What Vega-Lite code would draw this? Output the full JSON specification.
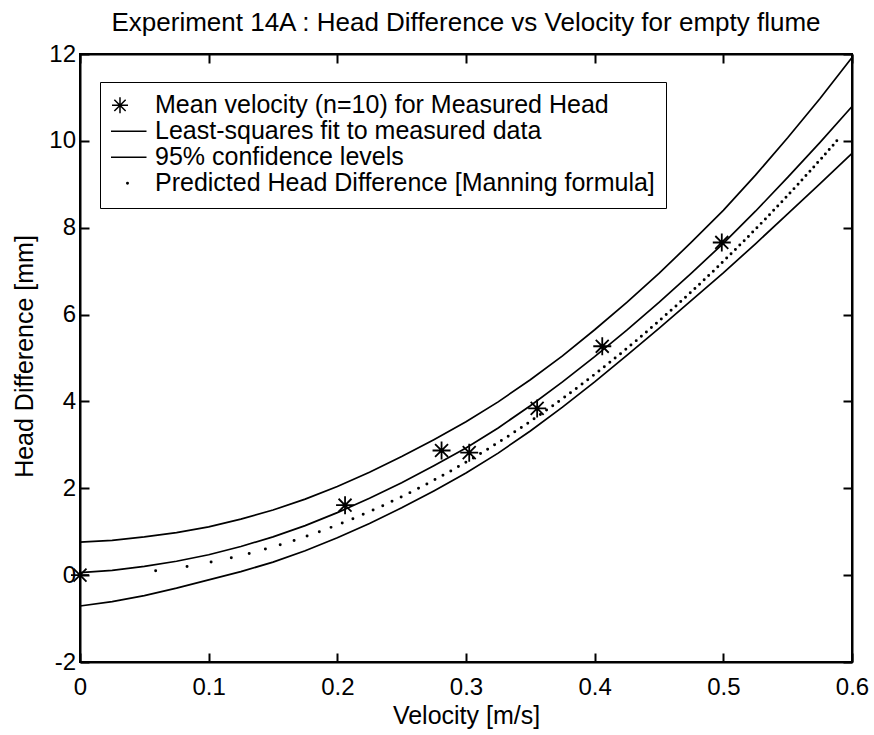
{
  "$schema": "https://vega.github.io/schema/vega-lite/v6.json",
  "width": 772,
  "height": 608,
  "autosize": "none",
  "padding": {"left": 80, "top": 54, "right": 22, "bottom": 73},
  "background": "white",
  "title": {
    "text": "Experiment 14A : Head Difference vs Velocity for empty flume",
    "font": "Liberation Sans", "fontSize": 26, "fontWeight": "normal", "color": "black",
    "anchor": "middle", "baseline": "alphabetic", "offset": -15
  },
  "config": {
    "view": {"stroke": "black", "strokeWidth": 2},
    "axis": {
      "domainColor": "black", "domainWidth": 2, "tickColor": "black", "tickWidth": 2, "tickSize": -9,
      "labelFont": "Liberation Sans", "labelFontSize": 24, "labelColor": "black", "labelOverlap": false, "labelFlush": false,
      "titleFont": "Liberation Sans", "titleFontSize": 25, "titleFontWeight": "normal", "titleColor": "black",
      "grid": false
    }
  },
  "datasets": {
    "fit": [
      {"v":0,"h":0.06,"s":"fit"},{"v":0.025,"h":0.11,"s":"fit"},{"v":0.05,"h":0.20,"s":"fit"},{"v":0.075,"h":0.32,"s":"fit"},{"v":0.1,"h":0.47,"s":"fit"},{"v":0.125,"h":0.66,"s":"fit"},{"v":0.15,"h":0.88,"s":"fit"},{"v":0.175,"h":1.14,"s":"fit"},{"v":0.2,"h":1.44,"s":"fit"},{"v":0.225,"h":1.77,"s":"fit"},{"v":0.25,"h":2.13,"s":"fit"},{"v":0.275,"h":2.52,"s":"fit"},{"v":0.3,"h":2.93,"s":"fit"},{"v":0.325,"h":3.39,"s":"fit"},{"v":0.35,"h":3.90,"s":"fit"},{"v":0.375,"h":4.45,"s":"fit"},{"v":0.4,"h":5.03,"s":"fit"},{"v":0.425,"h":5.64,"s":"fit"},{"v":0.45,"h":6.28,"s":"fit"},{"v":0.475,"h":6.95,"s":"fit"},{"v":0.5,"h":7.64,"s":"fit"},{"v":0.525,"h":8.38,"s":"fit"},{"v":0.55,"h":9.16,"s":"fit"},{"v":0.575,"h":9.96,"s":"fit"},{"v":0.6,"h":10.79,"s":"fit"},
      {"v":0,"h":0.76,"s":"upper"},{"v":0.025,"h":0.80,"s":"upper"},{"v":0.05,"h":0.88,"s":"upper"},{"v":0.075,"h":0.98,"s":"upper"},{"v":0.1,"h":1.11,"s":"upper"},{"v":0.125,"h":1.29,"s":"upper"},{"v":0.15,"h":1.50,"s":"upper"},{"v":0.175,"h":1.75,"s":"upper"},{"v":0.2,"h":2.04,"s":"upper"},{"v":0.225,"h":2.37,"s":"upper"},{"v":0.25,"h":2.73,"s":"upper"},{"v":0.275,"h":3.12,"s":"upper"},{"v":0.3,"h":3.53,"s":"upper"},{"v":0.325,"h":3.99,"s":"upper"},{"v":0.35,"h":4.50,"s":"upper"},{"v":0.375,"h":5.05,"s":"upper"},{"v":0.4,"h":5.65,"s":"upper"},{"v":0.425,"h":6.28,"s":"upper"},{"v":0.45,"h":6.95,"s":"upper"},{"v":0.475,"h":7.66,"s":"upper"},{"v":0.5,"h":8.40,"s":"upper"},{"v":0.525,"h":9.21,"s":"upper"},{"v":0.55,"h":10.07,"s":"upper"},{"v":0.575,"h":10.97,"s":"upper"},{"v":0.6,"h":11.92,"s":"upper"},
      {"v":0,"h":-0.71,"s":"lower"},{"v":0.025,"h":-0.61,"s":"lower"},{"v":0.05,"h":-0.47,"s":"lower"},{"v":0.075,"h":-0.30,"s":"lower"},{"v":0.1,"h":-0.11,"s":"lower"},{"v":0.125,"h":0.08,"s":"lower"},{"v":0.15,"h":0.30,"s":"lower"},{"v":0.175,"h":0.56,"s":"lower"},{"v":0.2,"h":0.86,"s":"lower"},{"v":0.225,"h":1.19,"s":"lower"},{"v":0.25,"h":1.55,"s":"lower"},{"v":0.275,"h":1.94,"s":"lower"},{"v":0.3,"h":2.35,"s":"lower"},{"v":0.325,"h":2.81,"s":"lower"},{"v":0.35,"h":3.32,"s":"lower"},{"v":0.375,"h":3.87,"s":"lower"},{"v":0.4,"h":4.45,"s":"lower"},{"v":0.425,"h":5.06,"s":"lower"},{"v":0.45,"h":5.68,"s":"lower"},{"v":0.475,"h":6.32,"s":"lower"},{"v":0.5,"h":6.96,"s":"lower"},{"v":0.525,"h":7.63,"s":"lower"},{"v":0.55,"h":8.32,"s":"lower"},{"v":0.575,"h":9.01,"s":"lower"},{"v":0.6,"h":9.71,"s":"lower"}
    ],
    "pred": [
      {"v":0.0588,"h":0.1},{"v":0.0832,"h":0.2},{"v":0.1019,"h":0.3},{"v":0.1176,"h":0.4},{"v":0.1315,"h":0.5},{"v":0.1441,"h":0.6},{"v":0.1556,"h":0.7},{"v":0.1664,"h":0.8},{"v":0.1765,"h":0.9},{"v":0.1860,"h":1.0},
      {"v":0.1951,"h":1.1},{"v":0.2038,"h":1.2},{"v":0.2121,"h":1.3},{"v":0.2201,"h":1.4},{"v":0.2278,"h":1.5},{"v":0.2353,"h":1.6},{"v":0.2425,"h":1.7},{"v":0.2496,"h":1.8},{"v":0.2564,"h":1.9},{"v":0.2631,"h":2.0},
      {"v":0.2696,"h":2.1},{"v":0.2759,"h":2.2},{"v":0.2821,"h":2.3},{"v":0.2882,"h":2.4},{"v":0.2941,"h":2.5},{"v":0.2999,"h":2.6},{"v":0.3057,"h":2.7},{"v":0.3113,"h":2.8},{"v":0.3168,"h":2.9},{"v":0.3222,"h":3.0},
      {"v":0.3275,"h":3.1},{"v":0.3328,"h":3.2},{"v":0.3379,"h":3.3},{"v":0.3430,"h":3.4},{"v":0.3480,"h":3.5},{"v":0.3529,"h":3.6},{"v":0.3578,"h":3.7},{"v":0.3626,"h":3.8},{"v":0.3674,"h":3.9},{"v":0.3720,"h":4.0},
      {"v":0.3767,"h":4.1},{"v":0.3812,"h":4.2},{"v":0.3857,"h":4.3},{"v":0.3902,"h":4.4},{"v":0.3946,"h":4.5},{"v":0.3990,"h":4.6},{"v":0.4033,"h":4.7},{"v":0.4075,"h":4.8},{"v":0.4118,"h":4.9},{"v":0.4159,"h":5.0},
      {"v":0.4201,"h":5.1},{"v":0.4242,"h":5.2},{"v":0.4282,"h":5.3},{"v":0.4323,"h":5.4},{"v":0.4363,"h":5.5},{"v":0.4402,"h":5.6},{"v":0.4441,"h":5.7},{"v":0.4480,"h":5.8},{"v":0.4518,"h":5.9},{"v":0.4556,"h":6.0},
      {"v":0.4594,"h":6.1},{"v":0.4632,"h":6.2},{"v":0.4669,"h":6.3},{"v":0.4706,"h":6.4},{"v":0.4743,"h":6.5},{"v":0.4779,"h":6.6},{"v":0.4815,"h":6.7},{"v":0.4851,"h":6.8},{"v":0.4886,"h":6.9},{"v":0.4922,"h":7.0},
      {"v":0.4957,"h":7.1},{"v":0.4991,"h":7.2},{"v":0.5026,"h":7.3},{"v":0.5060,"h":7.4},{"v":0.5094,"h":7.5},{"v":0.5128,"h":7.6},{"v":0.5162,"h":7.7},{"v":0.5195,"h":7.8},{"v":0.5228,"h":7.9},{"v":0.5261,"h":8.0},
      {"v":0.5294,"h":8.1},{"v":0.5327,"h":8.2},{"v":0.5359,"h":8.3},{"v":0.5391,"h":8.4},{"v":0.5423,"h":8.5},{"v":0.5455,"h":8.6},{"v":0.5487,"h":8.7},{"v":0.5518,"h":8.8},{"v":0.5549,"h":8.9},{"v":0.5581,"h":9.0},
      {"v":0.5611,"h":9.1},{"v":0.5642,"h":9.2},{"v":0.5673,"h":9.3},{"v":0.5703,"h":9.4},{"v":0.5733,"h":9.5},{"v":0.5764,"h":9.6},{"v":0.5793,"h":9.7},{"v":0.5823,"h":9.8},{"v":0.5853,"h":9.9},{"v":0.5882,"h":10.0}
    ],
    "meas": [
      {"v":0,"h":0},{"v":0.206,"h":1.61},{"v":0.281,"h":2.87},{"v":0.3025,"h":2.82},{"v":0.3553,"h":3.84},{"v":0.4059,"h":5.27},{"v":0.4988,"h":7.66}
    ]
  },
  "layer": [
    {
      "data": {"name": "fit"},
      "mark": {"type": "line", "color": "black", "strokeWidth": 1.7},
      "encoding": {
        "x": {"field": "v", "type": "quantitative", "scale": {"domain": [0, 0.6], "nice": false, "zero": false},
              "axis": {"orient": "bottom", "title": "Velocity [m/s]", "values": [0, 0.1, 0.2, 0.3, 0.4, 0.5, 0.6],
                       "labelExpr": "'' + datum.value", "labelPadding": 22, "titleBaseline": "alphabetic", "titleY": 61}},
        "y": {"field": "h", "type": "quantitative", "scale": {"domain": [-2, 12], "nice": false, "zero": false},
              "axis": {"orient": "left", "title": "Head Difference [mm]", "values": [-2, 0, 2, 4, 6, 8, 10, 12],
                       "labelExpr": "'' + datum.value", "labelPadding": 13.5, "titleBaseline": "alphabetic", "titleX": -48, "titleY": 302}},
        "detail": {"field": "s", "type": "nominal"}
      }
    },
    {
      "data": {"name": "pred"},
      "mark": {"type": "point", "filled": false, "color": "black", "strokeWidth": 1.5, "size": 961, "opacity": 1},
      "encoding": {
        "x": {"field": "v", "type": "quantitative",
              "axis": {"orient": "top", "title": null, "labels": false, "values": [0, 0.1, 0.2, 0.3, 0.4, 0.5, 0.6]}},
        "y": {"field": "h", "type": "quantitative",
              "axis": {"orient": "right", "title": null, "labels": false, "values": [-2, 0, 2, 4, 6, 8, 10, 12]}},
        "shape": {
          "datum": "Predicted Head Difference [Manning formula]", "type": "nominal",
          "scale": {
            "domain": ["Mean velocity (n=10) for Measured Head", "Least-squares fit to measured data", "95% confidence levels", "Predicted Head Difference [Manning formula]"],
            "range": [
              "M-1,0L0.032,0M-0.484,-0.516L-0.484,0.516M-0.849,-0.365L-0.119,0.365M-0.849,0.365L-0.119,-0.365",
              "M-1.226,0L1.226,0",
              "M-1.226,0L1.226,0",
              "M-0.048,0A0.048,0.048,0,1,0,0.048,0A0.048,0.048,0,1,0,-0.048,0Z"
            ]
          },
          "legend": {
            "orient": "none", "legendX": 20, "legendY": 28, "direction": "vertical",
            "title": null, "padding": 11, "strokeColor": "black", "fillColor": "white",
            "labelFont": "Liberation Sans", "labelFontSize": 25, "labelColor": "black", "labelLimit": 700,
            "symbolSize": 961, "symbolStrokeWidth": 1.5, "symbolStrokeColor": "black",
            "clipHeight": 24.7, "rowPadding": 0, "labelOffset": 11,
            "encode": {
              "legend": {"strokeWidth": {"value": 2}}
            }
          }
        }
      }
    },
    {
      "data": {"name": "meas"},
      "mark": {"type": "point", "filled": false, "color": "black", "strokeWidth": 1.8, "size": 324, "opacity": 1,
               "shape": "M-1,0L1,0M0,-1L0,1M-0.72,-0.72L0.72,0.72M-0.72,0.72L0.72,-0.72"},
      "encoding": {
        "x": {"field": "v", "type": "quantitative", "axis": null},
        "y": {"field": "h", "type": "quantitative", "axis": null}
      }
    }
  ],
  "resolve": {"axis": {"x": "independent", "y": "independent"}}
}
